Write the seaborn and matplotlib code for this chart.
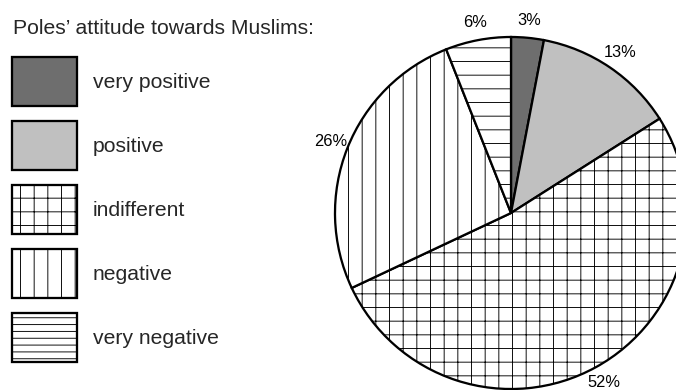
import matplotlib
matplotlib.use("Agg")
import matplotlib.pyplot as plt
import seaborn as sns

categories = ["very positive", "positive", "indifferent", "negative", "very negative"]
values = [3, 13, 52, 26, 6]
colors = ["#6e6e6e", "#c0c0c0", "#ffffff", "#ffffff", "#ffffff"]
hatches = ["", "", "+", "|", "-"]
legend_hatches = ["", "", "+", "|", "--"]
title = "Poles\u2019 attitude towards Muslims:"

sns.set_theme(style="white")
plt.rcParams["font.family"] = ["Liberation Sans", "DejaVu Sans"]
plt.rcParams["hatch.linewidth"] = 0.8

DPI = 82
fig = plt.figure(figsize=(676 / DPI, 390 / DPI), dpi=DPI)
ax = fig.add_axes([0, 0, 1, 1])

cx, cy, R = 511, 213, 176
wedges, texts, autotexts = ax.pie(
    values, colors=colors, startangle=90, counterclock=False,
    autopct=lambda p: f"{p:.0f}%", pctdistance=1.1,
    wedgeprops=dict(edgecolor="black", linewidth=2.0),
    textprops=dict(fontsize=14.4, color="black"),
)
for w, h in zip(wedges, hatches):
    w.set_hatch(h)

ax.set_xlim(-cx / R, (676 - cx) / R)
ax.set_ylim((cy - 390) / R, cy / R)
ax.set_aspect("auto")
ax.axis("off")

fs = 18.6
fig.text(13 / 676, 1 - 28 / 390, title, fontsize=fs, va="center", ha="left")
fpx = fs * DPI / 72
box_h, box_w, gap, pad = 49, 65, 15, 16
leg = fig.legend(
    wedges, categories, loc="upper left",
    bbox_to_anchor=(12 / 676, 1 - 57 / 390), bbox_transform=fig.transFigure,
    frameon=False, fontsize=fs, borderpad=0, borderaxespad=0,
    handlelength=box_w / fpx, handleheight=(box_h / fpx - 0.245) / 0.65,
    labelspacing=gap / fpx, handletextpad=pad / fpx,
)
for hd, h in zip(leg.legend_handles, legend_hatches):
    hd.set_hatch(h)

fig.savefig("out.png", dpi=DPI)
